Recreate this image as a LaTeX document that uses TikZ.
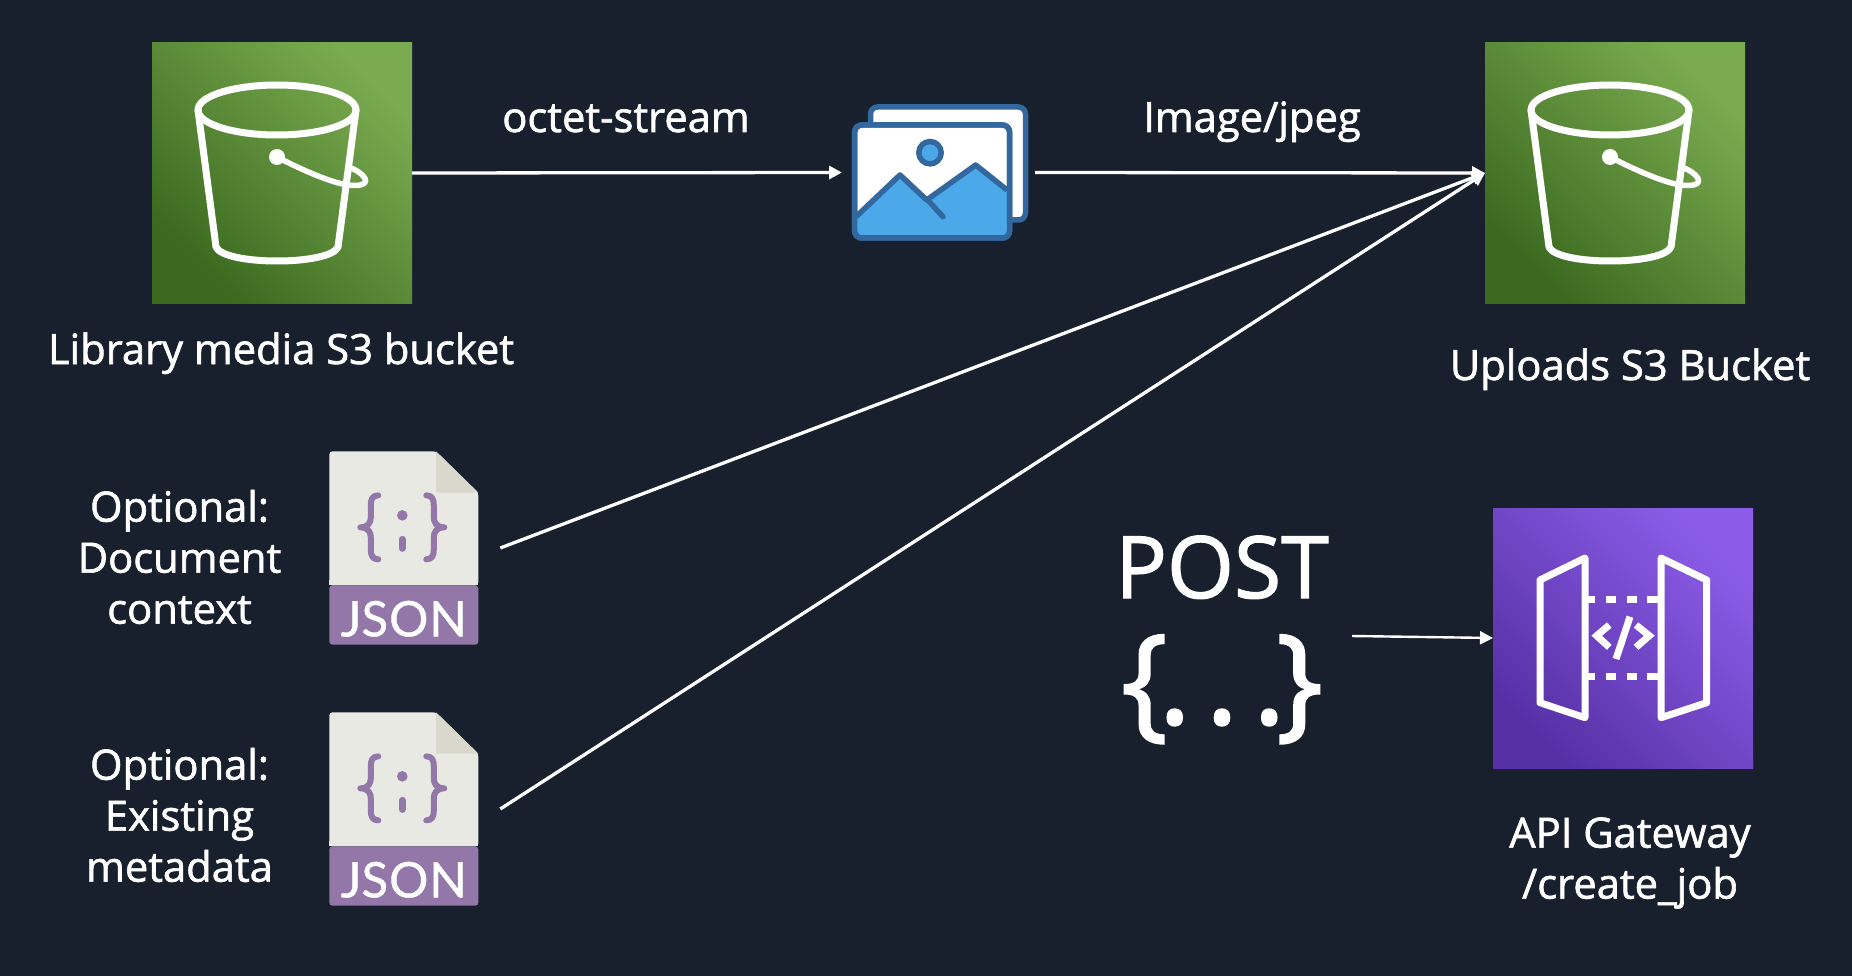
\documentclass[tikz,border=0pt]{standalone}
\usepackage{fontspec}
\setmainfont[FakeBold=1.5]{Open Sans}
\newfontfamily\jsonfont[FakeBold=0.8]{Lato}
\usetikzlibrary{arrows.meta}
\definecolor{bgc}{HTML}{181F2D}
\definecolor{gdark}{HTML}{3A691F}
\definecolor{glight}{HTML}{7BAB50}
\definecolor{pdark}{HTML}{5631A5}
\definecolor{plight}{HTML}{8C5CE8}
\definecolor{imgblue}{HTML}{33689F}
\definecolor{imgsky}{HTML}{4CA9E9}
\definecolor{jpurple}{HTML}{9277A8}
\definecolor{jbody}{HTML}{E9E9E3}
\definecolor{jfold}{HTML}{D9D8CC}
\tikzset{
  x=1pt,y=-1pt,
  tile/.style={minimum size=260pt,inner sep=0pt,outer sep=0pt},
  s3tile/.style={tile,bottom color=gdark,top color=glight,middle color=gdark!50!glight,shading angle=-45},
  apitile/.style={tile,bottom color=pdark,top color=plight,middle color=pdark!50!plight,shading angle=-45},
  hold/.style={minimum width=#1,inner sep=0pt,outer sep=0pt},
  flow/.style={draw=white,line width=3.3pt,-{Triangle[length=13pt,width=13pt]}},
  lbl/.style={text=white,inner sep=0pt,align=center,font=\fontsize{41.7}{51}\selectfont},
  icon/.style={draw=white,line width=7pt,line join=round,line cap=round},
  bucket/.pic={
    \draw[icon] (46,67) .. controls (46,52) and (85,42) .. (125,42) .. controls (165,42) and (204,52) .. (204,67)
       .. controls (204,82) and (165,92) .. (125,92) .. controls (85,92) and (46,82) .. (46,67) -- cycle;
    \draw[icon] (46,67) -- (64,204) .. controls (68,213) and (95,218) .. (125,218) .. controls (155,218) and (182,213) .. (186,204) -- (204,67);
    \fill[white] (125,114) circle (8);
    \draw[icon,line width=5.5pt] (125,114) .. controls (150,127) and (180,140) .. (196,142)
       .. controls (210,144) and (217,140) .. (212,134) .. controls (209,130) and (204,127) .. (199,125);
  },
  docicon/.pic={
    \fill[jbody,rounded corners=3pt] (0,0) -- (106.7,0) -- (149,41.3) -- (149,134) -- (0,134) -- cycle;
    \fill[jpurple,rounded corners=3pt] (0,134) -- (149,134) -- (149,193.3) -- (0,193.3) -- cycle;
    \fill[jbody] (0,129) rectangle (149,134);
    \fill[jfold] (106.7,0) -- (106.7,41.3) -- (149,41.3) -- cycle;
    \begin{scope}[draw=jpurple,line width=6pt,line cap=round,line join=round]
      \draw (49,44) .. controls (43,44) and (41.5,48) .. (41.5,54) -- (41.5,66) .. controls (41.5,71) and (39,76) .. (31,76)
            .. controls (39,76) and (41.5,81) .. (41.5,86) -- (41.5,98) .. controls (41.5,104) and (43,108) .. (49,108);
      \draw (97,44) .. controls (103,44) and (104.5,48) .. (104.5,54) -- (104.5,66) .. controls (104.5,71) and (107,76) .. (115,76)
            .. controls (107,76) and (104.5,81) .. (104.5,86) -- (104.5,98) .. controls (104.5,104) and (103,108) .. (97,108);
      \draw[line width=7pt] (73,88) -- (73,97);
    \end{scope}
    \fill[jpurple] (73,64) circle (5.3);
    \path (74.5,185) node[anchor=base,text=white,inner sep=0pt,font=\jsonfont\fontsize{49}{49}\selectfont] (jsontxt) {JS\kern1pt O\kern1pt N};
  }
}
\begin{document}
\begin{tikzpicture}
\useasboundingbox (0,0) rectangle (1852,976);
\fill[bgc] (0,0) rectangle (1852,976);

% S3 tiles
\node[s3tile] (lib) at (282,173) {};
\node[s3tile] (upl) at (1615,173) {};
\pic at (lib.north west) {bucket};
\pic at (upl.north west) {bucket};

% image icon
\node[hold=193pt,minimum height=136pt] (img) at (938.5,172.5) {};
\begin{scope}[line width=5.5pt,draw=imgblue,rounded corners=7pt]
  \filldraw[fill=white] (870.5,107) rectangle (1025.5,220);
  \filldraw[fill=white] (854.7,125) rectangle (1009.5,238);
  \fill[imgsky,sharp corners] (856,216.7) -- (900,175) -- (926.7,200) -- (975.7,165) -- (1007,190) -- (1007,236) -- (857,236) -- cycle;
  \draw[fill=none] (854.7,125) rectangle (1009.5,238);
\end{scope}
\draw[imgblue,line width=5.5pt,line join=round] (856,216.7) -- (900,175) -- (926.7,200) -- (975.7,165) -- (1007,190);
\draw[imgblue,line width=5.5pt,line cap=round] (926.7,199) -- (943,216.7);
\filldraw[fill=imgsky,draw=imgblue,line width=5.5pt] (930,152.7) circle (11.2);

% JSON documents
\node[hold=171pt,minimum height=193.3pt] (doc1) at (414.8,548) {};
\node[hold=171pt,minimum height=193.3pt] (doc2) at (414.8,809) {};
\pic at (doc1.north west) {docicon};
\pic at (doc2.north west) {docicon};

% API Gateway tile
\node[apitile] (api) at (1623,638) {};
\begin{scope}[icon]
  \draw (1540,580) -- (1585,558) -- (1585,717.7) -- (1540,702.7) -- cycle;
  \draw (1661,558) -- (1706.7,580) -- (1706.7,702.7) -- (1661,717.7) -- cycle;
  \foreach \yy in {599.7,676}{
    \draw[line cap=butt] (1588,\yy) -- (1595,\yy) (1605.7,\yy) -- (1616,\yy) (1626.7,\yy) -- (1636.7,\yy) (1647.3,\yy) -- (1658,\yy);
  }
  \draw[line cap=butt,line join=miter] (1609.3,625) -- (1596.7,635.7) -- (1609.3,647.3);
  \draw[line cap=butt,line join=miter] (1636,625) -- (1649.3,635.7) -- (1636,647.3);
  \draw[line cap=butt] (1630,616.7) -- (1616,659);
\end{scope}

% Labels
\node[lbl,anchor=base] (t1) at (626,132) {octet-stream};
\node[lbl,anchor=base] (t2) at (1252,132) {Image/jpeg};
\node[lbl,anchor=base] (t3) at (281,364) {Library media S3 bucket};
\node[lbl,anchor=base] (t4) at (1630,380) {Uploads S3 Bucket};
\node[lbl] (t5) at (179.5,557) {Optional:\\Document\\context};
\node[lbl] (t6) at (179.5,815) {Optional:\\Existing\\metadata};
\node[lbl] (t7) at (1630,863) {API Gateway\\/create\_job};
\node[lbl,anchor=base,font=\fontsize{86}{86}\selectfont] (t8) at (1222,598) {POST};
\node[lbl,anchor=base,font=\fontsize{125}{125}\selectfont] (t9) at (1222,724) {\{\kern-10pt.\kern14pt.\kern14pt.\kern-10pt\}};
\coordinate (postout) at (1352,636);

% Connectors
\draw[flow] (lib.east) -- (img.west);
\draw[flow] (img.east) -- (upl.west);
\draw[flow] (doc1.east) -- (upl.west);
\draw[flow] (doc2.east) -- (upl.west);
\draw[flow,line width=2.4pt] (postout) -- (api.west);
\end{tikzpicture}
\end{document}
